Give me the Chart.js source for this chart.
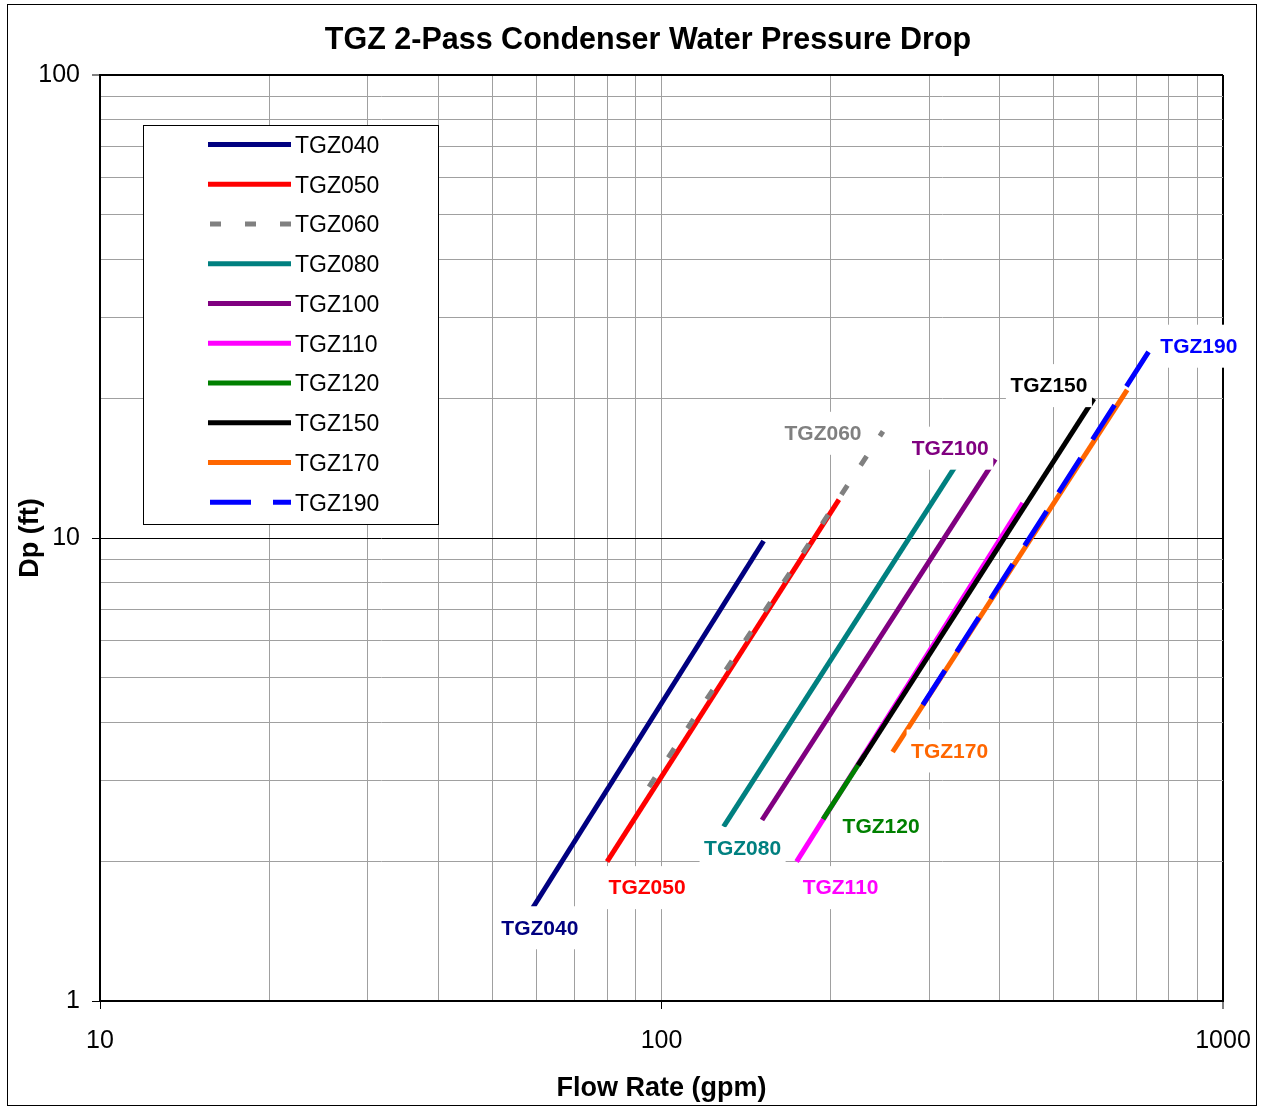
<!DOCTYPE html>
<html>
<head>
<meta charset="utf-8">
<title>TGZ 2-Pass Condenser Water Pressure Drop</title>
<script src="https://cdn.jsdelivr.net/npm/chart.js@4.4.1/dist/chart.umd.min.js"></script>
<style>
  html, body { margin: 0; padding: 0; background: #fff; }
  canvas { display: block; }
</style>
</head>
<body>
<canvas id="myChart" width="1261" height="1107"></canvas>
<script>
// Series, in legend order
const seriesNames = ['TGZ040', 'TGZ050', 'TGZ060', 'TGZ080', 'TGZ100', 'TGZ110', 'TGZ120', 'TGZ150', 'TGZ170', 'TGZ190'];

// Flow rate (gpm) at both ends of each curve
const flowGpm = [
    [59, 152], [80, 207], [95, 248], [129, 340], [151, 393],
    [174, 440], [194, 230], [224, 589], [258, 675], [292, 744]
];

// Pressure drop (ft) at both ends of each curve
const pressureDropFt = [
    [1.59, 9.85], [2.0, 12.1], [2.9, 17.0], [2.38, 14.8], [2.46, 14.8],
    [2.0, 11.9], [2.47, 3.4], [3.23, 20.0], [3.45, 20.9], [4.36, 25.7]
];

// Axis ticks (gridlines at every one, text only on the decades)
const xTickValues = [10, 20, 30, 40, 50, 60, 70, 80, 90, 100, 200, 300, 400, 500, 600, 700, 800, 900, 1000];
const yTickValues = [1, 2, 3, 4, 5, 6, 7, 8, 9, 10, 20, 30, 40, 50, 60, 70, 80, 90, 100];
const xTickLabels = ['10', '100', '1000'];
const yTickLabels = ['1', '10', '100'];

// Styles
const seriesColors = ['#000080', '#FF0000', '#808080', '#008080', '#800080', '#FF00FF', '#008000', '#000000', '#FF6600', '#0000FF'];
const seriesDash = [[], [], [11, 24], [], [], [], [], [], [], [41, 22]];
// Which end of the curve the label hangs on, and its offset in px
const labelPlacement = [
    { end: 0, dx: 7, dy: 20 },
    { end: 0, dx: 40, dy: 26 },
    { end: 1, dx: -60, dy: 2 },
    { end: 0, dx: 19, dy: 22 },
    { end: 1, dx: -45, dy: -11 },
    { end: 0, dx: 44, dy: 26 },
    { end: 0, dx: 58, dy: 7 },
    { end: 1, dx: -45, dy: -13 },
    { end: 0, dx: 57, dy: -1 },
    { end: 1, dx: 48, dy: -2 }
];

const FONT = '"Liberation Sans", Arial, sans-serif';
Chart.defaults.font.family = FONT;
Chart.defaults.color = '#000';

const datasets = seriesNames.map((name, i) => ({
    label: name,
    data: flowGpm[i].map((f, j) => ({ x: f, y: pressureDropFt[i][j] })),
    borderColor: seriesColors[i],
    backgroundColor: seriesColors[i],
    borderWidth: 5,
    borderDash: seriesDash[i],
    borderCapStyle: 'butt',
    showLine: true,
    pointRadius: 0,
    pointHoverRadius: 0,
    tension: 0,
    order: seriesNames.length - i   // later series on top, like the original
}));

// Fondo blanco, marco, título, etiquetas de curva y leyenda
const decorPlugin = {
    id: 'decor',
    beforeDraw(chart) {
        const ctx = chart.ctx;
        ctx.save();
        ctx.fillStyle = '#fff';
        ctx.fillRect(0, 0, chart.width, chart.height);
        ctx.restore();
    },
    afterDatasetsDraw(chart) {
        const ctx = chart.ctx;
        ctx.save();

        // curve labels with white boxes
        ctx.font = 'bold 21px ' + FONT;
        ctx.textAlign = 'center';
        ctx.textBaseline = 'middle';
        seriesNames.forEach((name, i) => {
            const p = labelPlacement[i];
            const pt = chart.getDatasetMeta(i).data[p.end];
            const cx = pt.x + p.dx;
            const cy = pt.y + p.dy;
            const w = ctx.measureText(name).width + 9;
            const h = 43;
            ctx.fillStyle = '#fff';
            ctx.fillRect(cx - w / 2, cy - h / 2, w, h);
            ctx.fillStyle = seriesColors[i];
            ctx.fillText(name, cx, cy + 1);
        });

        // legend
        const lx = 143.5, ly = 125.5, lw = 295, lh = 399;
        ctx.fillStyle = '#fff';
        ctx.fillRect(lx, ly, lw, lh);
        ctx.strokeStyle = '#000';
        ctx.lineWidth = 1;
        ctx.strokeRect(lx, ly, lw, lh);
        ctx.font = '23px ' + FONT;
        ctx.textAlign = 'left';
        seriesNames.forEach((name, i) => {
            const y = 145.5 + i * 39.75;
            ctx.beginPath();
            ctx.setLineDash(seriesDash[i]);
            ctx.strokeStyle = seriesColors[i];
            ctx.lineWidth = 5;
            ctx.lineCap = 'butt';
            ctx.moveTo(seriesDash[i].length ? 210 : 208, y - 1);
            ctx.lineTo(291, y - 1);
            ctx.stroke();
            ctx.setLineDash([]);
            ctx.fillStyle = '#000';
            ctx.fillText(name, 295, y + 1);
        });
        ctx.restore();
    },
    afterDraw(chart) {
        const ctx = chart.ctx;
        ctx.save();
        ctx.font = 'bold 30.5px ' + FONT;
        ctx.textAlign = 'center';
        ctx.textBaseline = 'middle';
        ctx.fillStyle = '#000';
        ctx.fillText('TGZ 2-Pass Condenser Water Pressure Drop', 648, 41);
        ctx.strokeStyle = '#000';
        ctx.lineWidth = 1;
        ctx.strokeRect(7.5, 4.5, 1249, 1101);
        ctx.restore();
    }
};

const gridColor = '#a0a0a0';

const ctx = document.getElementById('myChart').getContext('2d');
new Chart(ctx, {
    type: 'scatter',
    data: { datasets: datasets },
    plugins: [decorPlugin],
    options: {
        responsive: false,
        animation: false,
        devicePixelRatio: 1,
        layout: { padding: { top: 75, right: 38, bottom: 0, left: 0 } },
        plugins: {
            legend: { display: false },
            title: { display: false },
            tooltip: { enabled: false }
        },
        scales: {
            x: {
                type: 'logarithmic',
                min: 10,
                max: 1000,
                afterBuildTicks: s => { s.ticks = xTickValues.map(v => ({ value: v })); },
                afterFit: s => { s.height = 106; s.paddingLeft = 0; s.paddingRight = 0; },
                border: { display: true, color: '#000', width: 2 },
                grid: {
                    color: c => (c.tick && (c.tick.value === 10 || c.tick.value === 1000)) ? '#000' : gridColor,
                    lineWidth: c => (c.tick && c.tick.value === 1000) ? 2 : 1,
                    tickColor: c => (c.tick && xTickLabels.includes(String(c.tick.value))) ? '#000' : 'rgba(0,0,0,0)',
                    tickWidth: 1,
                    tickLength: 8,
                    drawTicks: true
                },
                ticks: {
                    autoSkip: false,
                    maxRotation: 0,
                    padding: 17,
                    font: { size: 25 },
                    color: '#000',
                    callback: v => xTickLabels.includes(String(v)) ? String(v) : ''
                },
                title: {
                    display: true,
                    text: 'Flow Rate (gpm)',
                    font: { size: 27, weight: 'bold' },
                    color: '#000',
                    padding: { top: 0, bottom: 2 }
                }
            },
            y: {
                type: 'logarithmic',
                min: 1,
                max: 100,
                afterBuildTicks: s => { s.ticks = yTickValues.map(v => ({ value: v })); },
                afterFit: s => { s.width = 100; s.paddingTop = 0; s.paddingBottom = 0; },
                border: { display: true, color: '#000', width: 2 },
                grid: {
                    color: c => (c.tick && [1, 10, 100].includes(c.tick.value)) ? '#000' : gridColor,
                    lineWidth: c => (c.tick && c.tick.value === 100) ? 2 : 1,
                    tickColor: c => (c.tick && yTickLabels.includes(String(c.tick.value))) ? '#000' : 'rgba(0,0,0,0)',
                    tickWidth: 1,
                    tickLength: 8,
                    drawTicks: true
                },
                ticks: {
                    autoSkip: false,
                    padding: 12,
                    font: { size: 25 },
                    color: '#000',
                    callback: v => yTickLabels.includes(String(v)) ? String(v) : ''
                },
                title: {
                    display: true,
                    text: 'Dp (ft)',
                    font: { size: 27, weight: 'bold' },
                    color: '#000',
                    padding: { top: 14, bottom: 0 }
                }
            }
        }
    }
});
</script>
</body>
</html>
